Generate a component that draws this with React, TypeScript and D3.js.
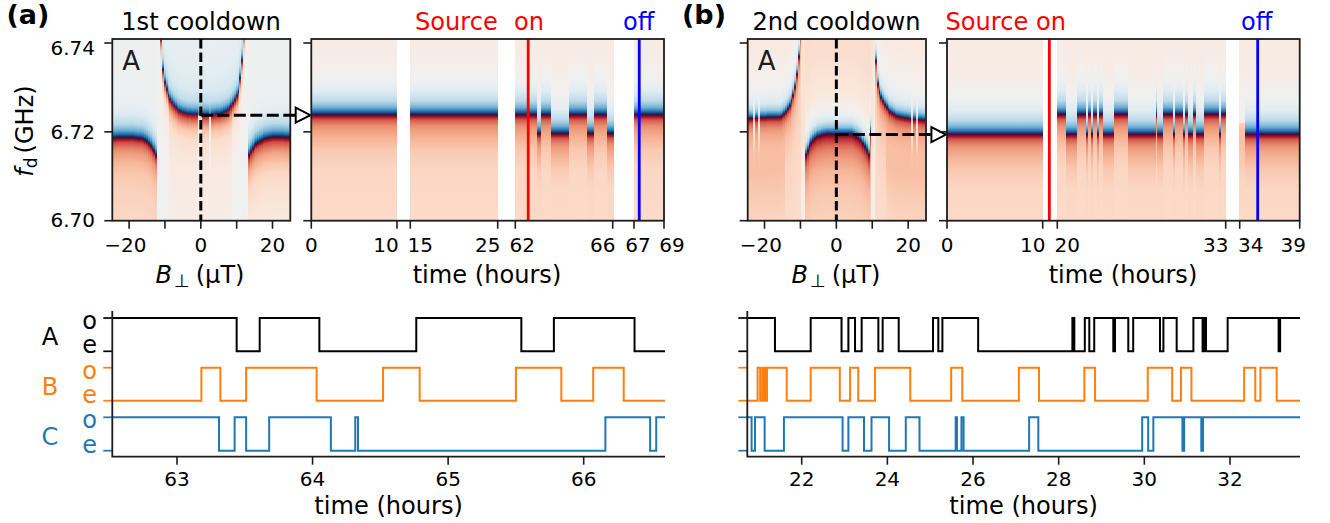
import React from "react";
import * as d3 from "d3";

// ---------- colour profile of a resonance: value against distance from it (MHz) ----------
const profileOffsets = [-40, -24, -12.5, -8, -5.8, -3.6, -2.5, -1.2, -0.1, 0.1, 0.8, 1.5, 3, 5.4, 7.7, 9.5, 12, 18, 40];
const profileStrong = [0.16, 0.18, 0.2, 0.26, 0.33, 0.41, 0.47, 0.62, 1, -1, -0.72, -0.5, -0.27, -0.11, -0.03, 0, 0.04, 0.07, 0.08];
const profileFade = [0.16, 0.18, 0.21, 0.26, 0.28, 0.3, 0.3, 0.28, 0.22, 0.05, 0, 0, 0, 0.02, 0.04, 0.05, 0.06, 0.07, 0.08];
const profileAOuterL = [0.15, 0.17, 0.22, 0.27, 0.33, 0.42, 0.5, 0.65, 1, -1, -0.72, -0.5, -0.27, -0.12, -0.06, -0.04, -0.03, -0.03, -0.03];
const profileAOuterR = [0.02, 0.05, 0.14, 0.2, 0.28, 0.4, 0.5, 0.65, 1, -1, -0.72, -0.5, -0.27, -0.12, -0.06, -0.04, -0.03, -0.03, -0.03];
const profileAInner = [0.04, 0.05, 0.09, 0.13, 0.17, 0.28, 0.4, 0.6, 0.9, -1, -0.72, -0.48, -0.25, -0.15, -0.12, -0.1, -0.09, -0.07, -0.05];
const profileAEdge = [-0.03, -0.02, 0.02, 0.06, 0.1, 0.2, 0.32, 0.55, 0.9, -1, -0.72, -0.48, -0.25, -0.15, -0.12, -0.1, -0.09, -0.07, -0.05];
const profileAStreak = [0.04, 0.05, 0.06, 0.05, 0.02, 0, 0, 0.05, 0.3, -0.7, -0.55, -0.42, -0.25, -0.15, -0.12, -0.1, -0.09, -0.07, -0.05];
const profileGapA = [-0.02, -0.02, -0.02, -0.02, -0.02, -0.02, -0.02, -0.02, -0.02, -0.02, -0.02, -0.02, -0.02, -0.02, -0.02, -0.02, -0.02, -0.02, -0.02];
const profileBOuter = [0.18, 0.2, 0.3, 0.3, 0.33, 0.4, 0.47, 0.62, 1, -0.95, -0.6, -0.37, -0.15, -0.04, 0, 0.03, 0.05, 0.1, 0.12];
const profileBNear = [0.16, 0.18, 0.21, 0.26, 0.3, 0.38, 0.45, 0.62, 1, -0.95, -0.6, -0.37, -0.15, -0.04, 0, 0.03, 0.05, 0.1, 0.12];
const profileBStreak = [0.18, 0.2, 0.3, 0.28, 0.2, 0.14, 0.12, 0.15, 0.4, -0.3, -0.15, -0.1, -0.05, 0, 0, 0.03, 0.05, 0.1, 0.12];
const profileBInner = [0.15, 0.18, 0.27, 0.34, 0.41, 0.5, 0.58, 0.74, 1, -1, -0.7, -0.42, -0.16, 0, 0.06, 0.1, 0.12, 0.16, 0.18];
const profileBGap = [0.03, 0.04, 0.05, 0.06, 0.08, 0.1, 0.12, 0.14, 0.14, 0.14, 0.14, 0.14, 0.14, 0.14, 0.14, 0.14, 0.14, 0.14, 0.14];

const profiles: Record<string, number[]> = {
  strong: profileStrong, fade: profileFade, aOuterL: profileAOuterL, aOuterR: profileAOuterR,
  aInner: profileAInner, aEdge: profileAEdge, aStreak: profileAStreak, gapA: profileGapA,
  bOuter: profileBOuter, bNear: profileBNear, bStreak: profileBStreak, bInner: profileBInner, bGap: profileBGap,
};

// ---------- field sweeps: resonance above 6.70 GHz in MHz, one value every 0.5 uT from -25 ----------
const sweepFieldStart = -25;
const sweepFieldStep = 0.5;
const a1Resonance = [
  18.7, 18.7, 18.7, 18.8, 18.8, 18.8, 18.8, 18.8, 18.8, 18.8, 18.8, 18.8, 18.8, 18.7, 18.7, 18.6, 18.6, 18.5, 18.4, 18.2, 17.9, 17.4, 16.9, 16.3, 15.8, 14.8,
  20, 20,
  41, 33.9, 31, 29.5, 28.1, 27.2, 26.5, 25.9, 25.4, 25, 24.7, 24.5, 24.3, 24.2, 24.1, 24, 24, 23.9, 23.9, 23.9, 23.9, 23.8, 23.8, 23.8, 23.8, 23.8, 23.8, 23.8, 23.8, 23.8, 23.9, 24, 24, 24.1, 24.2, 24.4, 24.6, 24.9, 25.2, 25.7, 26.3, 27.1, 28, 29, 32, 36, 42,
  20, 20,
  14.8, 15.6, 16.3, 16.9, 17.3, 17.6, 17.9, 18.1, 18.4, 18.5, 18.6, 18.7, 18.8, 18.9, 18.9, 18.9, 18.9, 18.9, 18.9, 18.9, 18.8, 18.8, 18.8, 18.8,
];
const a1Bands: [number, number, string][] = [
  [-0.75, 0.25, "aStreak"], [2.25, 2.75, "aStreak"], [-25.25, -12.25, "aOuterL"], [-12.25, -11.25, "gapA"],
  [-11.25, -8.75, "aEdge"], [8.75, 12.25, "aEdge"], [-8.75, 8.75, "aInner"], [12.25, 13.25, "gapA"], [13.25, 25.25, "aOuterR"],
];
const b1Resonance = [
  23, 23, 23.1, 23.1, 23.1, 23.2, 23.2, 23.2, 23.3, 23.3, 23.3, 23.3, 23.4, 23.4, 23.4, 23.4, 23.4, 23.4, 23.4, 23.5, 23.8, 24.1, 24.6, 25.3, 26, 27, 28.3, 30.2, 33, 37, 42,
  20, 20,
  14.8, 15.8, 16.8, 17.5, 18.1, 18.5, 18.8, 19, 19.1, 19.3, 19.4, 19.4, 19.5, 19.5, 19.5, 19.5, 19.5, 19.5, 19.5, 19.5, 19.5, 19.5, 19.5, 19.5, 19.5, 19.5, 19.4, 19.2, 18.9, 18.6, 18.2, 17.8, 17.3, 16.7, 15.9, 14.8,
  20, 20,
  42, 36, 30.8, 29, 27.9, 27, 26.2, 25.6, 25, 24.6, 24.3, 24, 23.7, 23.6, 23.5, 23.4, 23.3, 23.2, 23.2, 23.1, 23, 23, 22.9, 22.9, 22.8, 22.8, 22.8, 22.7, 22.7,
];
const b1Bands: [number, number, string][] = [
  [-23.25, -22.75, "bStreak"], [-21.75, -21.25, "bStreak"], [20.75, 21.25, "bStreak"], [22.25, 22.75, "bStreak"],
  [-25.25, -14, "bOuter"], [-14, -9.75, "bNear"], [-9.75, -8.75, "bGap"], [-8.75, 9.75, "bInner"],
  [9.75, 10.75, "bGap"], [10.75, 14, "bNear"], [14, 25.25, "bOuter"],
];

// ---------- monitoring against time: [start, end, resonance MHz, profile] ----------
const aHigh = 23.9, aLow = 19.7, bHigh = 24, bLow = 19.5;
const a2Blocks: [number, number, number, string][] = [
  [0, 10.08, aHigh, "strong"], [15, 25, aHigh, "strong"], [61.95, 62.89, aHigh, "strong"], [62.89, 63.04, aLow, "strong"],
  [63.04, 63.45, aHigh, "strong"], [63.45, 64.21, aLow, "strong"], [64.21, 64.96, aHigh, "strong"], [64.96, 65.22, aLow, "strong"],
  [65.22, 65.78, aHigh, "strong"], [65.78, 66.05, aLow, "strong"], [67, 69, aHigh, "strong"],
];
const b2Switches = [20, 20.646, 21.52, 22.216, 22.395, 22.576, 22.756, 23.09, 23.22, 23.55, 24.38, 25.43, 27.62, 27.72, 28.185, 28.96, 29.09, 29.73, 29.86, 30.115, 30.5, 30.71, 31.325, 32.48, 32.66, 33];
const b2Blocks: [number, number, number, string][] = [
  [0, 10.03, bLow, "strong"],
  ...b2Switches.slice(0, -1).map((t, i): [number, number, number, string] => [t, b2Switches[i + 1], i % 2 === 0 ? bHigh : bLow, "strong"]),
  [33.95, 34.45, 22, "fade"], [34.45, 39, bLow, "strong"],
];
const a2TickValues = [0, 10, 15, 25, 62, 66, 67, 69];
const a2TickPx = [311.3, 397, 410.3, 497.7, 515.3, 612.7, 634, 664];
const a2LabelShift = [0, -11, 10, -10, 7, -10, 4, 8];
const b2TickValues = [0, 10, 20, 33, 34, 39];
const b2TickPx = [947, 1042.7, 1057.3, 1225.7, 1239.7, 1299.7];
const b2LabelShift = [0, -10, 10, -10, 11, -6.5];
const fieldTicks = [-20, -10, 0, 10, 20];
const fieldLabels = [-20, 0, 20];
const a2SourceOn = 62.53, a2SourceOff = 67.35, b2SourceOn = 14.55, b2SourceOff = 35.5;
const freqTicks = [40, 20, 0];
const freqLabels = ["6.74", "6.72", "6.70"];
const a1ArrowMHz = 23.75, b1ArrowMHz = 19.4;

// ---------- two-level traces: first state and the times at which it flips ----------
const aTraceA = [63.44, 63.61, 64.05, 64.765, 65.54, 65.78, 66.375];
const aTraceB = [63.18, 63.32, 63.51, 64.03, 64.52, 64.79, 65.5, 65.835, 66.07, 66.295];
const aTraceC = [63.31, 63.425, 63.51, 63.68, 64.135, 64.315, 64.335, 66.16, 66.49, 66.535];
const bTraceA = [21.376, 22.21, 22.93, 23.09, 23.245, 23.4, 23.79, 23.89, 24.265, 25.066, 25.19, 25.285, 26.12, 28.32, 28.365, 28.61, 28.715, 28.83, 29.275, 29.315, 29.625, 29.74, 30.365, 30.445, 30.755, 31.145, 31.36, 31.4, 31.44, 31.945, 33.135, 33.17];
const bTraceB = [20.97, 21.03, 21.08, 21.1, 21.13, 21.15, 21.19, 21.65, 22.21, 22.89, 23.13, 23.32, 23.71, 24.535, 25.49, 25.75, 27.07, 27.54, 28.6, 28.85, 30.08, 30.65, 30.855, 31.1, 32.33, 32.59, 32.71, 33.09];
const bTraceC = [20.83, 20.91, 21.135, 21.585, 22.955, 23.09, 23.455, 23.63, 24.04, 24.43, 24.75, 25.595, 25.625, 25.73, 25.78, 27.31, 27.525, 29.95, 30.09, 30.21, 30.89, 30.93, 31.33, 31.37];
const traceNames = ["A", "B", "C"];
const traceColors = ["#000000", "#ff7f0e", "#1f77b4"];
const traceStartsHigh = [[true, false, true], [true, false, true]];
const aHourTicks = [63, 64, 65, 66];
const bHourTicks = [22, 24, 26, 28, 30, 32];

const FONT = "'DejaVu Sans', sans-serif";
const INK = "#1c1c1c";
const TOP = 39, BOTTOM = 220.7;
const TICK_SIZE = 20, LABEL_SIZE = 24.1;
const freqY = d3.scaleLinear([0, 40], [220.7, 43]);
const maxF = freqY.invert(TOP);
const levelTop = [318, 367.7, 417.3];
const levelBottom = [351.3, 400.7, 450.7];
const TRACE_BOTTOM = 456.7;

let gradientCount = 0;

function Column({ x, width, res, name }: { x: number; width: number; res: number; name: string }) {
  const value = d3.scaleLinear(profileOffsets, profiles[name]).clamp(true);
  const distances: number[] = [];
  profileOffsets.forEach((o, i) => {
    distances.push(o);
    if (i < profileOffsets.length - 1 && !(o < 0 && profileOffsets[i + 1] > 0)) {
      distances.push((o + profileOffsets[i + 1]) / 2);
    }
  });
  const stops = [-res, maxF - res, ...distances]
    .filter((d) => res + d >= 0 && res + d <= maxF)
    .sort((a, b) => b - a)
    .map((d) => ({
      offset: (freqY(res + d) - TOP) / (BOTTOM - TOP),
      color: d3.interpolateRdBu((1 - value(d)) / 2),
    }));
  const id = React.useId().replace(/[^a-zA-Z0-9]/g, "") + "g" + gradientCount++;
  return (
    <g>
      <linearGradient id={id} x1={0} y1={0} x2={0} y2={1}>
        {stops.map((s, i) => (
          <stop key={i} offset={s.offset} stopColor={s.color} />
        ))}
      </linearGradient>
      <rect x={x} y={TOP} width={width} height={BOTTOM - TOP} fill={`url(#${id})`} shapeRendering="crispEdges" />
    </g>
  );
}

function Frame({ left, right, ticks }: { left: number; right: number; ticks: { x: number; label?: string; shift?: number }[] }) {
  return (
    <g>
      <rect x={left} y={TOP} width={right - left} height={BOTTOM - TOP} fill="none" stroke={INK} strokeWidth={1.8} />
      {freqTicks.map((f) => (
        <line key={f} x1={left - 8} x2={left} y1={freqY(f)} y2={freqY(f)} stroke={INK} strokeWidth={1.6} />
      ))}
      {ticks.map((t, i) => (
        <g key={i}>
          <line x1={t.x} x2={t.x} y1={BOTTOM} y2={BOTTOM + 8} stroke={INK} strokeWidth={1.6} />
          {t.label !== undefined && (
            <text x={t.x + (t.shift ?? 0)} y={251.5} textAnchor="middle" fontSize={TICK_SIZE} fontFamily={FONT} fill="#000">{t.label}</text>
          )}
        </g>
      ))}
    </g>
  );
}

function Sweep({ left, right, res, bands, marker }: { left: number; right: number; res: number[]; bands: [number, number, string][]; marker: number }) {
  const x = d3.scaleLinear([-20, 20], [left + (right - left) * 0.0944, left + (right - left) * 0.9]);
  const x0 = x(0);
  const w = x(sweepFieldStep) - x0;
  const y = freqY(marker);
  const arrowBase = right + 5.4, arrowTip = right + 20;
  return (
    <g>
      {res.map((r, i) => {
        const b = sweepFieldStart + i * sweepFieldStep;
        const band = bands.find((k) => b >= k[0] && b < k[1]);
        const xl = Math.max(left, x(b - sweepFieldStep / 2));
        const xr = Math.min(right, x(b) + w / 2);
        return <Column key={i} x={xl} width={Math.max(0, xr - xl)} res={r} name={band ? band[2] : "gapA"} />;
      })}
      <Frame left={left} right={right} ticks={fieldTicks.map((t) => ({
        x: x(t),
        shift: t < 0 ? -3.7 : 0,
        label: fieldLabels.includes(t) ? String(t).replace("-", "\u2212") : undefined,
      }))} />
      <text x={left + 10} y={70} fontSize={26} fontFamily={FONT} fill={INK}>A</text>
      <line x1={x0} x2={x0} y1={TOP} y2={BOTTOM} stroke="#000" strokeWidth={3} strokeDasharray="9.5 4" />
      <line x1={x0} x2={arrowBase} y1={y} y2={y} stroke="#000" strokeWidth={3} strokeDasharray="12 4.5" />
      <path d={`M${arrowBase},${y - 7.5}L${arrowTip},${y}L${arrowBase},${y + 7.5}Z`} fill="#fff" stroke="#000" strokeWidth={2} />
    </g>
  );
}

function Monitor({ values, px, shifts, blocks, on, off }: { values: number[]; px: number[]; shifts: number[]; blocks: [number, number, number, string][]; on: number; off: number }) {
  const x = d3.scaleLinear(values, px);
  const left = px[0], right = px[px.length - 1];
  return (
    <g>
      {blocks.map(([a, b, r, name], i) => (
        <Column key={i} x={x(a)} width={x(b) - x(a)} res={r} name={name} />
      ))}
      <line x1={x(on)} x2={x(on)} y1={TOP} y2={BOTTOM} stroke="#ff0000" strokeWidth={2.8} />
      <line x1={x(off)} x2={x(off)} y1={TOP} y2={BOTTOM} stroke="#0000ff" strokeWidth={2.8} />
      <Frame left={left} right={right} ticks={values.map((v, i) => ({ x: x(v), label: String(v), shift: shifts[i] }))} />
    </g>
  );
}

function Traces({ left, right, hourA, hourB, pxA, pxB, ticks, series, starts, labelled }: {
  left: number; right: number; hourA: number; hourB: number; pxA: number; pxB: number; ticks: number[];
  series: number[][]; starts: boolean[]; labelled: boolean;
}) {
  const x = d3.scaleLinear([hourA, hourB], [pxA, pxB]);
  const [d0, d1] = [x.invert(left), x.invert(right)];
  return (
    <g>
      {series.map((flips, s) => {
        const level = (i: number) => ((i % 2 === 0) === starts[s] ? levelTop[s] : levelBottom[s]);
        const pts: [number, number][] = [[d0, level(0)], ...flips.map((t, i): [number, number] => [t, level(i + 1)]), [d1, level(flips.length)]];
        const line = d3.line<[number, number]>().x((p) => x(p[0])).y((p) => p[1]).curve(d3.curveStepAfter);
        return (
          <g key={s}>
            <line x1={left - 9} x2={left} y1={levelTop[s]} y2={levelTop[s]} stroke={traceColors[s]} strokeWidth={1.7} />
            <line x1={left - 9} x2={left} y1={levelBottom[s]} y2={levelBottom[s]} stroke={traceColors[s]} strokeWidth={1.7} />
            <path d={line(pts) ?? ""} fill="none" stroke={traceColors[s]} strokeWidth={2} strokeLinejoin="miter" />
            {labelled && (
              <g fontFamily={FONT} fontSize={LABEL_SIZE} fill={traceColors[s]} textAnchor="middle">
                <text x={89.7} y={levelTop[s] + 11}>o</text>
                <text x={89.7} y={levelBottom[s] + 2}>e</text>
                <text x={50} y={levelBottom[s] - 6}>{traceNames[s]}</text>
              </g>
            )}
          </g>
        );
      })}
      <path d={`M${left},311V${TRACE_BOTTOM}H${right}`} fill="none" stroke={INK} strokeWidth={1.8} />
      {ticks.map((t) => (
        <g key={t}>
          <line x1={x(t)} x2={x(t)} y1={TRACE_BOTTOM} y2={TRACE_BOTTOM + 8} stroke={INK} strokeWidth={1.6} />
          <text x={x(t)} y={485.5} textAnchor="middle" fontSize={TICK_SIZE} fontFamily={FONT} fill="#000">{t}</text>
        </g>
      ))}
      <text x={(left + right) / 2} y={513.5} textAnchor="middle" fontSize={LABEL_SIZE} fontFamily={FONT} fill="#000">time (hours)</text>
    </g>
  );
}

function FieldLabel({ x }: { x: number }) {
  return (
    <text x={x} y={283} textAnchor="middle" fontSize={LABEL_SIZE} fontFamily={FONT} fill="#000">
      <tspan fontStyle="italic">B</tspan>
      <tspan dx={2} dy={4} fontSize={18}>⊥</tspan>
      <tspan dx={6} dy={-4}>(µT)</tspan>
    </text>
  );
}

export default function App() {
  gradientCount = 0;
  return (
    <svg width={1330} height={523} viewBox="0 0 1330 523" style={{ position: "absolute", left: 0, top: 0, background: "#fff" }}>
      <Sweep left={112.3} right={290.3} res={a1Resonance} bands={a1Bands} marker={a1ArrowMHz} />
      <Monitor values={a2TickValues} px={a2TickPx} shifts={a2LabelShift} blocks={a2Blocks} on={a2SourceOn} off={a2SourceOff} />
      <Sweep left={747.7} right={926} res={b1Resonance} bands={b1Bands} marker={b1ArrowMHz} />
      <Monitor values={b2TickValues} px={b2TickPx} shifts={b2LabelShift} blocks={b2Blocks} on={b2SourceOn} off={b2SourceOff} />
      <Traces left={112.3} right={665} hourA={63} hourB={66} pxA={177} pxB={583.7} ticks={aHourTicks}
        series={[aTraceA, aTraceB, aTraceC]} starts={traceStartsHigh[0]} labelled />
      <Traces left={747.3} right={1300} hourA={22} hourB={32} pxA={801.7} pxB={1230} ticks={bHourTicks}
        series={[bTraceA, bTraceB, bTraceC]} starts={traceStartsHigh[1]} labelled={false} />

      <g fontFamily={FONT} fontSize={TICK_SIZE} textAnchor="end" fill="#000">
        {freqLabels.map((l, i) => (
          <text key={l} x={95} y={[55, 139, 226.7][i]}>{l}</text>
        ))}
      </g>
      <text transform="translate(33,131) rotate(-90)" textAnchor="middle" fontFamily={FONT} fontSize={LABEL_SIZE} fill="#000">
        <tspan fontStyle="italic">f</tspan>
        <tspan dy={4} fontSize={17}>d</tspan>
        <tspan dx={4} dy={-4}>(GHz)</tspan>
      </text>
      <FieldLabel x={200} />
      <FieldLabel x={836} />
      <g fontFamily={FONT} fontSize={LABEL_SIZE} textAnchor="middle" fill="#000">
        <text x={487} y={283}>time (hours)</text>
        <text x={1123} y={283}>time (hours)</text>
      </g>
      <g fontFamily={FONT} fontSize={LABEL_SIZE}>
        <text x={201} y={30} textAnchor="middle" fill="#000">1st cooldown</text>
        <text x={836.5} y={30} textAnchor="middle" fill="#000">2nd cooldown</text>
        <text x={415} y={30} fill="#ff0000">Source</text>
        <text x={514} y={30} fill="#ff0000">on</text>
        <text x={623} y={30} fill="#0000ff">off</text>
        <text x={945.5} y={30} fill="#ff0000">Source on</text>
        <text x={1241} y={30} fill="#0000ff">off</text>
      </g>
      <g fontFamily={FONT} fontSize={27} fontWeight="bold" fill="#000">
        <text x={6.5} y={24}>(a)</text>
        <text x={682} y={24}>(b)</text>
      </g>
    </svg>
  );
}
